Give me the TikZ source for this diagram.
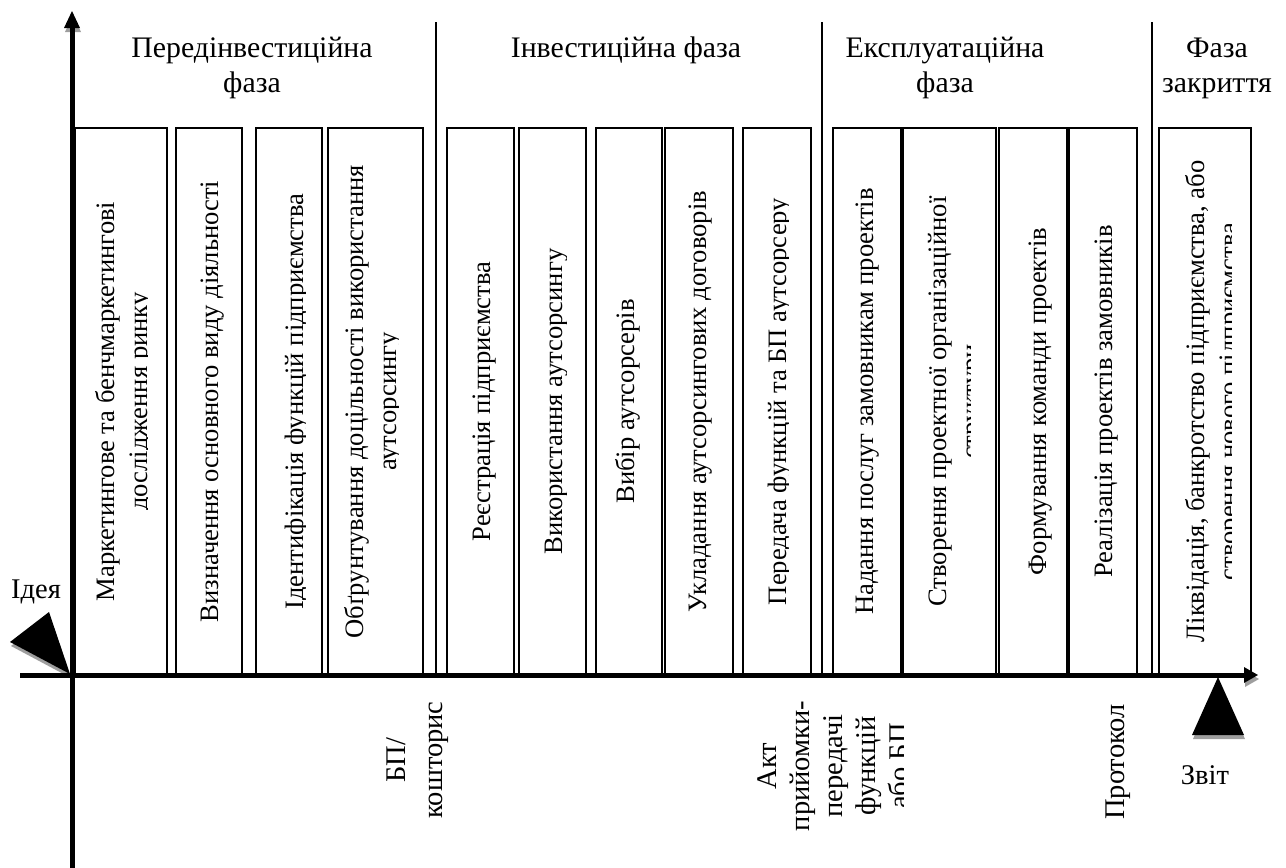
\documentclass[tikz,border=0pt]{standalone}
\usepackage{fontspec}
\setmainfont{Liberation Serif}
\begin{document}
\begin{tikzpicture}[x=1pt,y=1pt,
  stage/.style={draw=black,line width=1.6pt,inner sep=0pt,outer sep=0pt,anchor=north west,minimum height=547pt},
  sepline/.style={draw=black,line width=1.8pt},
  txt/.style={font=\fontsize{28.5}{33}\selectfont,inner sep=0pt,align=center},
  head/.style={font=\fontsize{29.8}{35}\selectfont,inner sep=0pt,align=center},
  vtxt/.style={txt,rotate=90},
  btxt/.style={font=\fontsize{26.6}{33}\selectfont,inner sep=0pt,align=center,rotate=90},
  shade/.style={fill=black!38,draw=none},
  axisline/.style={draw=black,line width=5pt},
]
\useasboundingbox (0,0) rectangle (1286,-868);

% ---- phase separators
\draw[sepline] (436,-22) -- (436,-675);
\draw[sepline] (822,-22) -- (822,-675);
\draw[sepline] (1152,-22) -- (1152,-675);

% ---- headers
\node[head] (h1) at (252,-68) {Передінвестиційна\\фаза};
\node[head] (h2) at (626,-50) {Інвестиційна фаза};
\node[head] (h3) at (945,-68) {Експлуатаційна\\фаза};
\node[head] (h4) at (1217,-68) {Фаза\\закриття};

% ---- stage boxes
\node[stage,minimum width=92pt] (b1) at (75,-128) {};
\node[stage,minimum width=66pt] (b2) at (176,-128) {};
\node[stage,minimum width=66pt] (b3) at (256,-128) {};
\node[stage,minimum width=95pt] (b4) at (328,-128) {};
\node[stage,minimum width=67pt] (b5) at (447,-128) {};
\node[stage,minimum width=67pt] (b6) at (519,-128) {};
\node[stage,minimum width=66pt] (b7) at (596,-128) {};
\node[stage,minimum width=68pt] (b8) at (665,-128) {};
\node[stage,minimum width=68pt] (b9) at (743,-128) {};
\node[stage,minimum width=68pt] (b10) at (833,-128) {};
\node[stage,minimum width=93pt] (b11) at (903,-128) {};
\node[stage,minimum width=68pt] (b12) at (999,-128) {};
\node[stage,minimum width=68pt] (b13) at (1069,-128) {};
\node[stage,minimum width=92pt] (b14) at (1159,-128) {};

% ---- stage texts (clipped like the original text frames)
\begin{scope}\clip (75,-128) rectangle (147,-675);
\node[btxt] (t1) at (124.5,-401.5) {Маркетингове та бенчмаркетингові\\дослідження ринку};
\end{scope}
\node[btxt] (t2) at (213,-401.5) {Визначення основного виду діяльності};
\begin{scope}\clip (256,-128) rectangle (305,-675);
\node[btxt] (t3) at (297,-401.5) {Ідентифікація функцій підприємства};
\end{scope}
\begin{scope}\clip (328,-128) rectangle (398,-675);
\node[btxt] (t4) at (373.5,-401.5) {Обґрунтування доцільності використання\\аутсорсингу};
\end{scope}
\node[btxt] (t5) at (485,-401.5) {Реєстрація підприємства};
\begin{scope}\clip (519,-128) rectangle (566,-675);
\node[btxt] (t6) at (557,-401.5) {Використання аутсорсингу};
\end{scope}
\node[btxt] (t7) at (628,-401.5) {Вибір аутсорсерів};
\node[btxt] (t8) at (701,-401.5) {Укладання аутсорсингових договорів};
\begin{scope}\clip (743,-128) rectangle (788,-675);
\node[btxt] (t9) at (780,-401.5) {Передача функцій та БП аутсорсеру};
\end{scope}
\node[btxt] (t10) at (868,-401.5) {Надання послуг замовникам проектів};
\begin{scope}\clip (903,-128) rectangle (970,-675);
\node[btxt] (t11) at (956.5,-401.5) {Створення проектної організаційної\\структури};
\end{scope}
\node[btxt] (t12) at (1041,-401.5) {Формування команди проектів};
\node[btxt] (t13) at (1107,-401.5) {Реалізація проектів замовників};
\begin{scope}\clip (1159,-128) rectangle (1231,-675);
\node[btxt] (t14) at (1214.5,-401.5) {Ліквідація, банкротство підприємства, або\\створення нового підприємства};
\end{scope}

% ---- axes coordinates
\coordinate (hx0) at (20,-675);
\coordinate (hx1) at (1246,-675);
\coordinate (vy0) at (72,-868);
\coordinate (vy1) at (72,-26);

% shadows
\begin{scope}[shift={(1,-4)}]
\draw[axisline,draw=black!38] (hx0) -- (hx1);
\fill[shade] (1244,-667) -- (1258,-675) -- (1244,-683) -- cycle;
\fill[shade] (64,-28) -- (72,-11) -- (80,-28) -- cycle;
\fill[shade] (10,-642) -- (49,-612) -- (70,-674) -- cycle;
\fill[shade] (1218,-677) -- (1244,-735) -- (1192,-735) -- cycle;
\end{scope}

% axes
\draw[axisline] (hx0) -- (hx1);
\fill[black] (1244,-667) -- (1258,-675) -- (1244,-683) -- cycle;
\draw[axisline] (vy0) -- (vy1);
\fill[black] (64,-28) -- (72,-11) -- (80,-28) -- cycle;

% markers
\fill[black] (10,-642) -- (49,-612) -- (70,-674) -- cycle;
\fill[black] (1218,-677) -- (1244,-735) -- (1192,-735) -- cycle;

% ---- labels
\node[txt] (idea) at (36,-592) {Ідея};
\node[txt] (report) at (1205,-775) {Звіт};
\node[vtxt,font=\fontsize{28.5}{37}\selectfont] (bp) at (418,-760) {БП/\\кошторис};
\begin{scope}\clip (740,-690) rectangle (903,-868);
\node[vtxt] (act) at (833,-766) {Акт\\прийомки-\\передачі\\функцій\\або БП};
\end{scope}
\node[vtxt] (prot) at (1118,-762) {Протокол};
\end{tikzpicture}
\end{document}
